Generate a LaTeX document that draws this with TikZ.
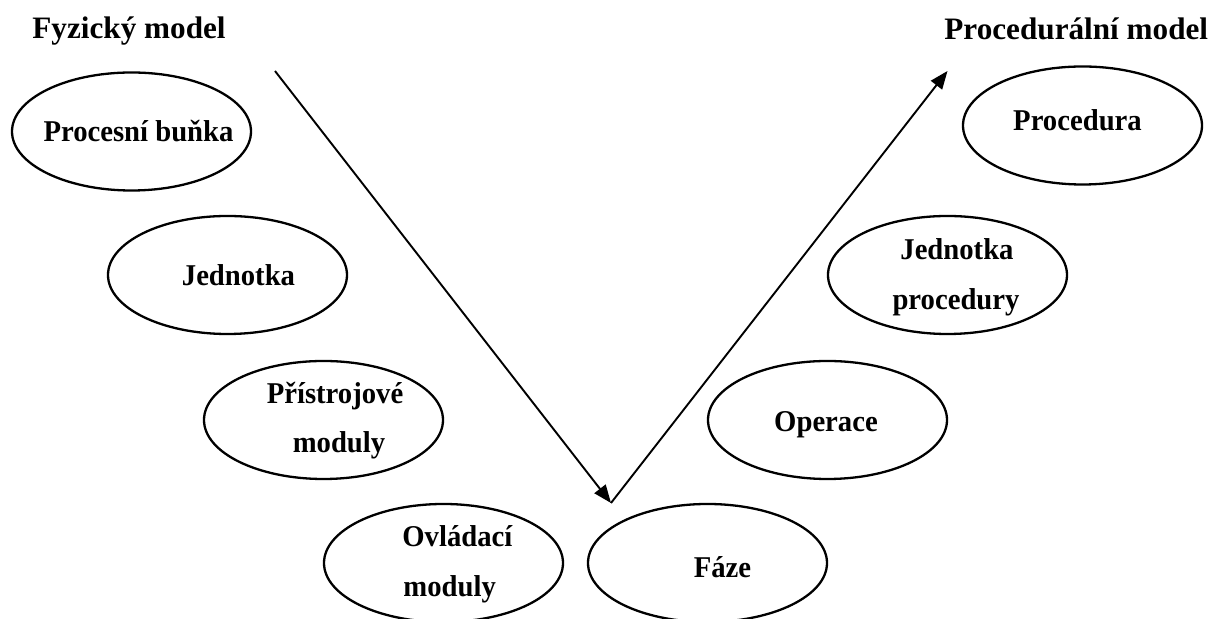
\documentclass[tikz,border=0pt]{standalone}
\usepackage{fontspec}
\setmainfont{Liberation Serif}
\newfontfamily\lblfont[FakeStretch=0.95]{Liberation Serif}
\usetikzlibrary{arrows.meta,shapes.geometric}
\begin{document}
\begin{tikzpicture}[x=0.5pt,y=-0.5pt,
  oval/.style={draw, line width=1.15pt, ellipse, inner sep=0pt, minimum width=119.5pt, minimum height=59pt},
  lbl/.style={font=\lblfont\bfseries\fontsize{15.1}{18}\selectfont, inner sep=0pt, anchor=base},
  lbll/.style={lbl, anchor=base west},
  ttl/.style={font=\bfseries\fontsize{15.6}{18}\selectfont, inner sep=0pt, anchor=base west},
  arr/.style={line width=0.95pt, -{Triangle[length=9pt,width=7pt]}}]
\useasboundingbox (0,0) rectangle (1217,619);
% titles
\node[ttl] (tf) at (32,39) {Fyzický model};
\node[ttl] (tp) at (944,40) {Procedurální model};
% ellipses
\node[oval] (e1) at (131.5,131.5) {};
\node[oval] (e2) at (227.5,275) {};
\node[oval] (e3) at (323.5,420) {};
\node[oval] (e4) at (443.5,563) {};
\node[oval] (e5) at (707.5,563) {};
\node[oval] (e6) at (827.5,420) {};
\node[oval] (e7) at (947.5,275) {};
\node[oval] (e8) at (1082.5,125.5) {};
% labels
\node[lbl] (l1) at (138.5,142) {Procesní buňka};
\node[lbl] (l2) at (238.5,286) {Jednotka};
\node[lbl] (l3a) at (335,404) {Přístrojové};
\node[lbl] (l3b) at (339,453) {moduly};
\node[lbll] (l4a) at (402,547) {Ovládací};
\node[lbll] (l4b) at (403,597) {moduly};
\node[lbl] (l5) at (722.5,578) {Fáze};
\node[lbl] (l6) at (826,432) {Operace};
\node[lbl] (l7a) at (957,260) {Jednotka};
\node[lbl] (l7b) at (956,310) {procedury};
\node[lbl] (l8) at (1077.5,131) {Procedura};
% arrows
\coordinate (s) at (275,71);
\coordinate (v) at (611,503);
\coordinate (t) at (947.5,71);
\draw[arr] (s) -- (v);
\draw[arr] (v) -- (t);
\end{tikzpicture}
\end{document}
